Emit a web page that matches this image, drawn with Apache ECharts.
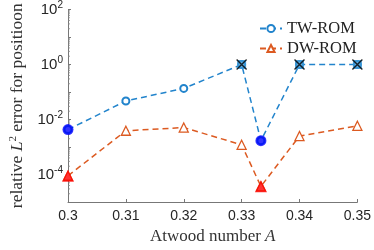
<!DOCTYPE html>
<html><head><meta charset="utf-8">
<script src="https://cdn.jsdelivr.net/npm/echarts@6/dist/echarts.min.js"></script>
<style>html,body{margin:0;padding:0;background:#fff}#c{width:374px;height:250px}</style>
</head><body><div id="c"></div>
<script>
const atwood = [0.30, 0.31, 0.32, 0.33, 1/3, 0.34, 0.35];
const twRom = [4.3e-3, 4.7e-2, 0.135, 1.0, 1.7e-3, 1.0, 1.0];
const dwRom = [9.0e-5, 3.9e-3, 5.1e-3, 1.2e-3, 3.7e-5, 2.5e-3, 5.9e-3];
const trainingA = [0.30, 1/3];
const xTicks = [0.30, 0.31, 0.32, 0.33, 0.34, 0.35];
const yLabelExps = [2, 0, -2, -4];

const isTrain = a => trainingA.some(t => Math.abs(t - a) < 1e-9);
const pairs = arr => atwood.map((a, i) => [a, arr[i]]);
const twTrain = atwood.map((a, i) => [a, twRom[i]]).filter(p => isTrain(p[0]));
const dwTrain = atwood.map((a, i) => [a, dwRom[i]]).filter(p => isTrain(p[0]));
const twFail = atwood.map((a, i) => [a, twRom[i]]).filter(p => p[1] >= 1);

const minorVals = [];
for (let e = -5; e < 2; e++) for (let k = 2; k <= 9; k++) minorVals.push([0.3, k * Math.pow(10, e)]);

const BLUE = '#2284cc', ORANGE = '#dc5a21';
const serif = 'Liberation Serif';
const sans = 'Liberation Sans';

const chart = echarts.init(document.getElementById('c'), null, {renderer: 'canvas'});
chart.setOption({
  animation: false,
  grid: {left: 55, right: 15, top: 9, bottom: 38, containLabel: false},
  legend: {
    data: ['TW-ROM', 'DW-ROM'], orient: 'vertical', left: 254, top: 15,
    itemWidth: 22, itemHeight: 9, itemGap: 3,
    textStyle: {fontFamily: serif, fontSize: 16.5, color: '#222'}
  },
  xAxis: {
    type: 'value', min: 0.3, max: 0.35, interval: 0.01,
    name: 'Atwood number {i|A}', nameLocation: 'middle', nameGap: 26,
    nameTextStyle: {fontFamily: serif, fontSize: 17, color: '#333',
      rich: {i: {fontFamily: serif, fontStyle: 'italic', fontSize: 17, color: '#333'}}},
    axisLine: {lineStyle: {color: '#777', width: 1}},
    axisTick: {inside: true, length: 3, lineStyle: {color: '#777'}},
    splitLine: {show: false},
    axisLabel: {margin: 7, fontFamily: sans, fontSize: 14, color: '#262626',
      formatter: v => String(+v.toFixed(2))}
  },
  yAxis: {
    type: 'log', logBase: 10, min: 1e-5, max: 1e2, interval: 1,
    name: 'relative {i|L}{s|2} error for positioon', nameLocation: 'middle', nameGap: 41, nameRotate: 90,
    nameTextStyle: {fontFamily: serif, fontSize: 17.5, color: '#333',
      rich: {i: {fontFamily: serif, fontStyle: 'italic', fontSize: 17.5, color: '#333'},
             s: {fontFamily: serif, fontSize: 11, color: '#333', padding: [0, 0, 8, 0]}}},
    axisLine: {show: true, lineStyle: {color: '#777', width: 1}},
    axisTick: {inside: true, length: 3, lineStyle: {color: '#777'}},
    splitLine: {show: false},
    axisLabel: {margin: 5, fontFamily: sans, fontSize: 15, color: '#262626',
      formatter: v => {
        const e = Math.round(Math.log10(v));
        if (!yLabelExps.includes(e)) return '';
        return '{b|10}{s|' + e + '}';
      },
      rich: {b: {fontFamily: sans, fontSize: 15, color: '#262626'},
             s: {fontFamily: sans, fontSize: 10, color: '#262626', padding: [0, 0, 9, 0]}}}
  },
  series: [
    {type: 'custom', silent: true, clip: false, z: 1, data: minorVals,
      renderItem: (params, api) => {
        const p = api.coord([api.value(0), api.value(1)]);
        return {type: 'line', shape: {x1: p[0], y1: p[1], x2: p[0] + 2, y2: p[1]},
          style: {stroke: '#888', lineWidth: 0.8}};
      }},
    {name: 'TW-ROM', type: 'line', data: pairs(twRom), symbol: 'emptyCircle', symbolSize: 7,
      color: BLUE, lineStyle: {type: [6, 4], width: 1.5, color: BLUE},
      itemStyle: {color: BLUE, borderWidth: 1.3}, z: 3},
    {name: 'DW-ROM', type: 'line', data: pairs(dwRom), symbol: 'triangle', symbolSize: 9,
      color: ORANGE, lineStyle: {type: [6, 4], width: 1.5, color: ORANGE},
      itemStyle: {color: '#fff', borderColor: ORANGE, borderWidth: 1.3}, z: 3},
    {name: 'twTrain', type: 'scatter', data: twTrain, symbol: 'circle', symbolSize: 11,
      itemStyle: {color: '#0000FF'}, z: 5},
    {name: 'dwTrain', type: 'scatter', data: dwTrain, symbol: 'triangle', symbolSize: 12,
      itemStyle: {color: '#FF0000'}, z: 5},
    {name: 'twFailSq', type: 'scatter', data: twFail, symbol: 'rect', symbolSize: 9,
      itemStyle: {color: '#3d9ad8'}, z: 5},
    {name: 'twFailX', type: 'scatter', data: twFail, symbol: 'path://M0,0L10,10M10,0L0,10', symbolSize: 10,
      itemStyle: {color: 'rgba(0,0,0,0)', borderColor: '#000', borderWidth: 1.5}, z: 6}
  ]
});
</script></body></html>
